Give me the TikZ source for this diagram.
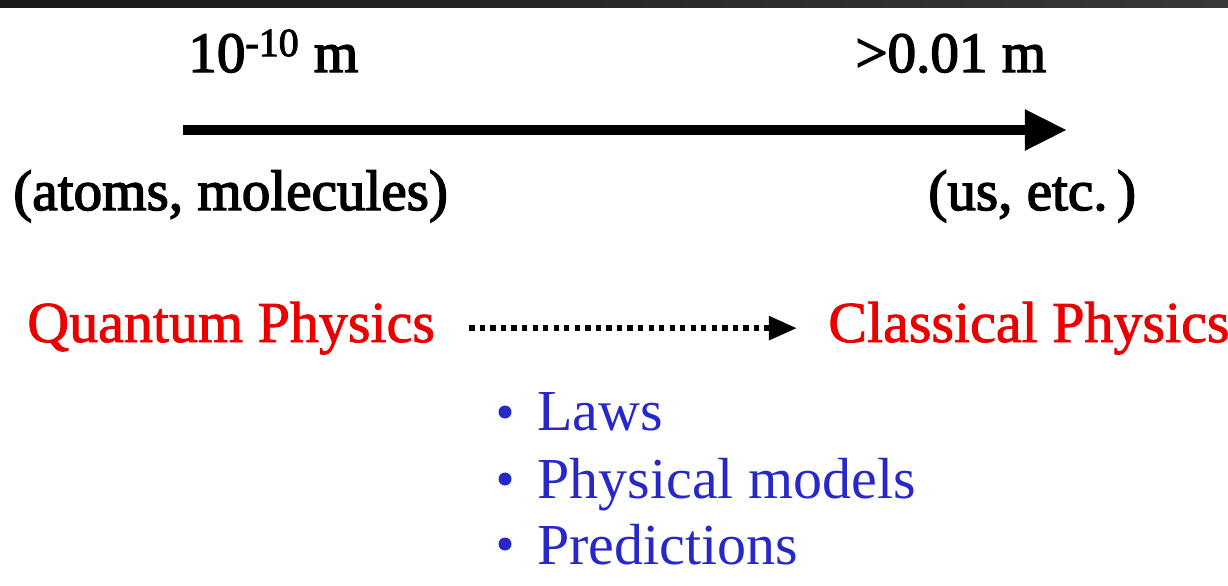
\documentclass[tikz,border=0pt]{standalone}
\usepackage{fontspec}
\setmainfont{Liberation Serif}
\newfontfamily\heavyfont[FakeBold=2.5]{Liberation Serif}
\newfontfamily\midfont[FakeBold=1.5]{Liberation Serif}
\usepackage{xcolor}
\usetikzlibrary{arrows.meta,positioning}
\definecolor{physred}{RGB}{235,0,0}
\definecolor{listblue}{RGB}{40,40,200}

\begin{document}
\begin{tikzpicture}[
  font=\fontsize{33}{40}\selectfont,
  lab/.style={inner sep=0pt, anchor=base west, font=\fontsize{32.5}{40}\heavyfont},
  phys/.style={lab, text=physred, font=\fontsize{33}{40}\midfont},
  item/.style={lab, text=listblue, font=\fontsize{33}{40}\selectfont},
  bul/.style={circle, fill=listblue, inner sep=0pt, minimum size=2.6mm},
  scalearr/.style={-{Triangle[length=24pt,width=22pt]}, line width=5.5pt},
  limarr/.style={-{Triangle[length=16pt,width=13pt]}, line width=3.5pt,
    dash pattern=on 3pt off 3pt},
]
\useasboundingbox (0,0) rectangle (24.56,-11.72);
% top bar
\shade[left color=black!90, right color=black!78] (0,0) rectangle (24.56,-0.15);

% length scale
\node[lab] (small) at (3.76,-1.44) {10\textsuperscript{-10} m};
\node[lab] (large) at (17.1,-1.44) {>0.01 m};
\coordinate (from) at (3.66,-2.6);
\coordinate (to) at (21.34,-2.6);
\draw[scalearr] (from) -- (to);
\node[lab] (atoms) at (0.26,-4.2) {(atoms, molecules)};
\node[lab] (us) at (18.56,-4.2) {(us, etc.\,)};

% physics
\node[phys] (qp) at (0.54,-6.84) {Quantum Physics};
\node[phys] (cp) at (16.56,-6.84) {Classical Physics};
\draw[limarr, shorten <=0.68cm, shorten >=0.62cm] (qp.east) -- (cp.west);

% list
\node[bul] (b1) at (10.1,-8.24) {};
\node[bul] (b2) at (10.1,-9.58) {};
\node[bul] (b3) at (10.1,-10.88) {};
\node[item] (laws) at (10.74,-8.6) {Laws};
\node[item] (models) at (10.74,-9.96) {Physical models};
\node[item] (pred) at (10.74,-11.28) {Predictions};
\end{tikzpicture}
\end{document}
